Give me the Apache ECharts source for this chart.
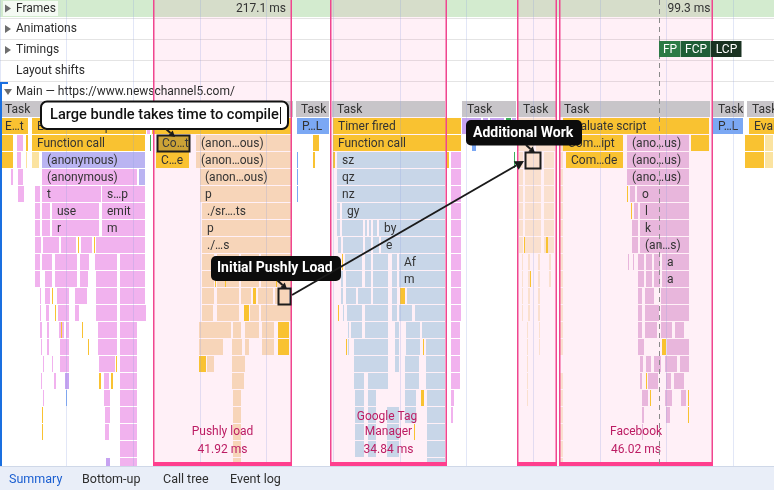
<!DOCTYPE html>
<html><head><meta charset="utf-8">
<script src="https://cdn.jsdelivr.net/npm/echarts@6/dist/echarts.min.js"></script>
<style>html,body{margin:0;padding:0;background:#fff}#c{width:774px;height:490px}</style>
</head><body><div id="c"></div>
<script>
// ---- DATA (time in ms from left edge, depth = call-stack row; 0 = Task row) ----
const taskBlocks = [[0,88.2,0,'Task'],[88.8,99,0,'Task'],[99.6,133.8,0,'Task'],[138.6,155,0,'Task'],[155.4,167.1,0,'Task'],[167.7,213.3,0,'Task'],[213.9,223.5,0,'Task'],[224.1,245,0,'Task']];
const yellowBlocks = [
 [0,8.7,1,'E…t'],[9.6,44,1,'Evaluate script'],[45.6,87.9,1],[99.9,138.6,1,'Timer fired'],[168.9,213,1,'Evaluate script'],[224.7,245,1,'Evaluate script'],
 [0,4.2,2],[7.8,8.7,2],[9.6,43.8,2,'Function call'],[47.1,57,2,'Co…t'],[93.9,96,2],[99.9,138.6,2,'Function call'],[168.9,187.2,2,'Com…ipt'],[207.3,213,2],[223.5,229.5,2],
 [0,4.2,3],[46.8,57,3,'C…e'],[93.9,94.8,3],[99.9,100.8,3],[133.8,135,3],[169.8,187.2,3,'Com…de'],[223.5,229.5,3],
 [23.4,24,8],[28.2,28.8,8],[15.6,16.2,11],[16.5,17.1,12],[18.3,18.9,13],[24.6,25.2,13],[26.4,27,14],[29.7,30.6,16],[34.8,35.4,15],[33.3,34.2,16],[12.6,13.2,18],[12.6,13.2,19],
 [59.7,62.1,15],[73.2,75,12],[75.9,77.1,11],[83.4,87,13],[83.4,87,14],[64.5,65.1,10],[67.5,68.1,10],[82.8,83.4,10],
 [102.6,103.2,9],[101.4,102,12],[103.8,104.4,14],[120,121.8,11],[126.9,127.5,14],[126.3,127.5,17],[124.2,124.8,19],
 [188.1,188.7,5],[189.3,189.9,6],[198.6,200,14],[193.8,194.4,16],[195,195.6,17],[206.4,207,17],[206.4,207,18],
 [157.2,157.8,8],[163.8,164.7,8],[159,159.6,10],[167.7,168.3,15]
];
const lightYellowBlocks = [[9.6,12,3],[7.8,8.4,3],[229.5,232.2,2],[229.5,232.2,3]];
const pinkBlocks = [
 [44.1,45.3,1],[5.1,7.2,2],[5.1,6.6,3],[5.4,7.2,4],[3.3,4.2,4],[5.4,7.5,5],[10.5,12.3,5],[10.5,12.3,6],[10.5,12.3,7],
 [12.6,41.4,4,'(anonymous)'],[12.6,30.6,5,'t'],[30.6,43.8,5,'s…p'],
 [12.6,15.3,6],[15.6,30,6,'use'],[30.6,43.8,6,'emit'],
 [12.6,15.3,7],[15.6,30,7,'r'],[30.6,43.8,7,'m'],
 [10.5,12.6,8],[12.9,18,8],[18.3,23.1,8],[24.3,28,8],[28.8,43.8,8],
 [10.5,12.3,9],[12.6,16,9],[16.5,23.4,9],[24,27,9],[28.5,35.4,9],[36,43.8,9],
 [10.5,12.3,10],[13.5,16,10],[16.5,23.4,10],[24,26.7,10],[28.8,35.4,10],[36,43.8,10],
 [12,12.6,11],[13.5,15.3,11],[17.1,21,11],[22.5,26.4,11],[28.8,35.4,11],[36,43.8,11],
 [12,12.6,12],[13.8,15,12],[17.4,21,12],[22.5,24,12],[28.8,35.4,12],[36,44.1,12],
 [12,12.9,13],[14.1,15,13],[17.7,19.5,13],[19.8,21,13],[29.4,35.4,13],[36,41.4,13],
 [12.3,12.9,14],[14.1,15,14],[18,21,14],[29.4,35.4,14],[36,41.4,14],
 [12.9,13.5,15],[15.6,16.2,15],[18,21,15],[29.7,34.8,15],[36,41.4,15],
 [12.3,12.6,16],[16.2,17.1,16],[31.2,33,16],[36,41.4,16],
 [12.9,13.2,17],[31.2,33.3,17],[36,41.4,17],
 [31.5,33.3,18],[36,41.4,18],[31.5,33,19],[36,41.4,19],[36,41.4,20],[36,41.4,21],
 [135.3,138.6,3],[135.3,138.6,4],[135.3,138.6,5],[135.3,138.6,6],[135.3,138.6,7],[135.3,138.6,8],[135.3,138.6,9],[135.3,138.6,10],[135.3,138.6,11],[135.3,138.6,12],
 [135.3,138.3,13],[135.3,138.3,14],[135.3,138.3,15],[135.3,138.3,16],[135.3,136.5,17],[135.3,136.2,18]
];
const fbPinkBlocks = [
 [188.1,207,2,'(ano…us)'],[188.1,207,3,'(ano…us)'],[188.1,207,4,'(ano…us)'],
 [189,190.8,5],[191.1,207,5,'o'],[190.2,191.7,6],[192,207,6,'l'],[189.6,191.7,7],[192,207,7,'k'],[189.6,191.7,8],[192,207,8,'(an…s)'],
 [188.4,189,9],[189.9,190.5,9],[191.4,193.5,9],[193.8,195.9,9],[196.2,198.3,9],[198.6,207,9,'a'],
 [191.4,193.5,10],[193.8,196,10],[196.2,198.3,10],[198.6,207,10,'a'],
 [191.4,193,11],[193.5,196.5,11],[198.3,207,11],
 [191.4,193,12],[193.5,198,12],[198.3,207,12],
 [191.4,193,13],[193.5,197.5,13],[198.3,202,13],[202.5,205.5,13],
 [191.4,193.5,14],[200.1,207,14],
 [192,193.2,15],[193.8,195.6,15],[196.2,198.6,15],[199.5,203.5,15],[204,207,15],
 [192,193,16],[194.4,197.7,16],[199.8,201.6,16],[202.2,205.5,16],
 [192.6,194.7,17],[199.5,202,17],[204.3,206,17],
 [192.6,193.5,18],[199.8,201.3,18],[192.6,193.2,19]
];
const lavenderBlocks = [[12.6,43.8,3,'(anonymous)'],[41.7,43.8,4]];
const purpleBlocks = [[138.6,144.6,1],[144.9,146.7,1],[147,151.5,1],[153.6,155.1,1],[19.5,21,16],[31.8,33.3,21]];
const greenBlocks = [[45,45.6,2],[151.8,153.6,1],[154.2,154.5,3]];
const blueBlocks = [[89.1,99,1,'P…L'],[213.9,223.2,1,'P…L'],[141.6,143.1,2],[19.8,20.4,17],[89.1,89.7,3],[89.1,89.7,4],[89.1,89.7,5]];
const peachBlocks = [
 [58.8,87.6,2,'(anon…ous)'],[58.8,87.6,3,'(anon…ous)'],[60,87.6,4,'(anon…ous)'],[60,87.6,5,'p'],[60.6,87.6,6,'./sr….ts'],[60.6,87.6,7,'p'],[60.6,87.6,8,'./…s'],
 [60.6,64.5,9],[65.1,72,9],[72.3,78,9],[78.3,87.6,9],
 [60.6,64.5,10],[65.1,72,10],[72.3,78,10],[78.3,87.6,10],
 [60.6,64.5,11],[65.1,72,11],[72.3,75.6,11],[77.4,82.2,11],[82.5,87,11],
 [60.6,64.2,12],[65.1,72,12],[75,78,12],[78.3,87.6,12],
 [59.7,69.6,13],[69.9,72.6,13],[73.5,78,13],[78.6,82.5,13],
 [59.7,67.2,14],[69.6,72.9,14],[73.5,75,14],[78.6,82.5,14],
 [62.1,64.5,15],[69.6,73.8,15],[69.6,73.5,16],[69.9,72.6,17],[69.9,72.6,18],[69.9,72.6,19],[69.9,72.6,20],[69.9,72.6,21]
];
const palePeachBlocks = [
 [155.4,166.8,1],[155.4,160.5,2],[160.8,166.8,2],
 [155.7,157.2,3],[157.5,162.6,3],[163.2,166.5,3],[155.7,157.2,4],[157.5,162.6,4],[163.2,166.5,4],
 [155.7,157.2,5],[157.5,162.6,5],[163.2,166.5,5],[155.7,157.2,6],[157.5,162.6,6],[163.2,166.5,6],
 [155.7,157.2,7],[157.5,162.6,7],[163.2,166.5,7],[155.7,157.2,8],[157.5,162.6,8],[163.2,166.5,8],
 [156.6,157.2,9],[158.4,159.3,9],[161.4,162.3,9],[164.7,165.6,9],[156.6,157.2,10],[158.4,159.3,10],[161.4,162.3,10],[164.7,165.6,10],
 [156.6,157.2,11],[158.4,159.3,11],[161.4,162.3,11],[156.6,157.2,12],[158.4,159.3,12],[161.4,162.3,12],
 [158.1,158.7,13],[161.7,162.3,13],[158.1,158.7,14],[161.7,162.3,14],[158.1,158.7,15],[158.1,158.7,16],[158.1,158.7,17],
 [167.7,169.2,2],[167.7,169.2,3],[167.7,169.2,4],[167.7,169.2,5],[167.7,169.2,6],[167.7,169.2,7],[167.7,169.2,8],[168,169.2,9],[168,169.2,10],
 [168,169.2,11],[168,169.2,12],[168,169.2,13],[168,169.2,14],[168,169.2,16],[168,169.2,17],[168,169.2,18],[168,169.2,19],[168,169.2,20],[168,169.2,21]
];
const gtmBlocks = [
 [101.1,133.8,3,'sz'],[101.1,133.8,4,'qz'],[101.1,133.8,5,'nz'],[101.1,102.3,6],[102.6,133.8,6,'gy'],
 [101.1,102.3,7],[102.6,109.2,7],[109.5,110.4,7],[110.7,111.6,7],[111.9,113.4,7],[113.7,133.8,7,'by'],
 [101.4,102.6,8],[102.9,109.2,8],[109.5,111.6,8],[111.9,114,8],[114.3,133.8,8,'e'],
 [103.5,109,9],[109.5,111.6,9],[111.9,116.7,9],[117.6,119.4,9],[119.7,133.8,9,'Af'],
 [102.3,103.2,10],[103.8,109,10],[109.5,111.6,10],[111.9,116.7,10],[117.6,119.4,10],[119.7,133.8,10,'m'],
 [102.3,103.2,11],[103.8,107,11],[107.4,111.6,11],[111.9,116.7,11],[117.6,119.4,11],[122,133.8,11],
 [102.9,103.5,12],[104.1,109,12],[109.5,116.7,12],[117.6,119.4,12],[119.7,124,12],[124.5,133.8,12],
 [104.4,105,13],[105.3,109,13],[109.5,116.7,13],[118.5,120,13],[121.8,126.3,13],[126.6,133.8,13],
 [104.4,105,14],[106.2,116.7,14],[118.5,120,14],[121.8,126.3,14],[127.8,133.8,14],
 [106.2,116.7,15],[118.5,120,15],[121.5,126,15],[127.8,133.8,15],
 [106.2,109.5,16],[110.4,116.7,16],[121.5,126,16],[127.8,133.8,16],
 [106.5,109.5,17],[110.4,113,17],[121.5,125,17],[128,133.8,17],
 [106.5,109.5,18],[110.4,113,18],[116,120,18],[121.5,125,18],[128,133.8,18],
 [106.5,109.5,19],[110.4,113,19],[116,120,19],[128,133.8,19],
 [106.5,109.5,20],[110.4,113,20],[116,120,20],[128,133.8,20],[128,133.8,21]
];
const selectedBlocks = [[47.1,57,2]];
const markedBlocks = [[83.4,87.3,11],[157.5,162.3,3]];
const regions = [[45.9,87.6,'Pushly load','41.92 ms'],[99.0,134.1,'Google Tag Manager','34.84 ms'],[155.1,167.1,'',''],[167.7,213.9,'Facebook','46.02 ms']];
const fpTime = 197.7;
const timingLabels = ['FP','FCP','LCP'];
const frameLabels = ['217.1 ms','99.3 ms'];
const trackLabels = ['Frames','Animations','Timings','Layout shifts'];
const mainLabel = 'Main — https://www.newschannel5.com/';
const tabLabels = ['Summary','Bottom-up','Call tree','Event log'];

// ---- STYLE ----
const FONT = 'Roboto, "Noto Sans", sans-serif';
const palette = {task:'#c8c5c9',yellow:'#f9c231',lightYellow:'#fbe3a0',pink:'#f1b2ee',fbPink:'#e8b6dc',lavender:'#bab4f2',purple:'#c7a3f1',green:'#3cae5b',blue:'#7ba8f4',peach:'#f7d5b9',palePeach:'#fae0cf',gtm:'#c8d6e8'};
const groups = [['task',taskBlocks],['palePeach',palePeachBlocks],['peach',peachBlocks],['gtm',gtmBlocks],['pink',pinkBlocks],['fbPink',fbPinkBlocks],['lavender',lavenderBlocks],['purple',purpleBlocks],['green',greenBlocks],['blue',blueBlocks],['lightYellow',lightYellowBlocks],['yellow',yellowBlocks]];
const flat = [];
groups.forEach(([k,arr]) => arr.forEach(b => flat.push({s:b[0],e:b[1],d:b[2],label:b[3]||'',color:palette[k]})));

function renderBlock(params, api){
  const b = flat[params.dataIndex];
  const p0 = api.coord([b.s, b.d]), p1 = api.coord([b.e, b.d+1]);
  const x = Math.round(p0[0]), y = Math.round(p0[1]);
  const w = Math.max(1, Math.round(p1[0]) - x - 1), h = Math.round(p1[1]) - y - 1;
  const ch = [{type:'rect', shape:{x:x,y:y,width:w,height:h}, style:{fill:b.color}}];
  if (b.label && w > 10) ch.push({type:'text', style:{text:b.label, x:x+5, y:y+h/2+0.5, verticalAlign:'middle', fill:'#333', font:'12px '+FONT, width:w-3, overflow:'truncate', ellipsis:''}});
  return {type:'group', children:ch};
}
function renderHighlight(list, tint){
  return function(params, api){
    const b = list[params.dataIndex];
    const p0 = api.coord([b[0], b[2]]), p1 = api.coord([b[1], b[2]+1]);
    return {type:'rect', shape:{x:Math.round(p0[0])+0.5, y:Math.round(p0[1])+0.5, width:Math.round(p1[0]-p0[0])-1, height:Math.round(p1[1]-p0[1])-1}, style:{fill:tint, stroke:'#1c1c1c', lineWidth:2}};
  };
}
function renderRegionFill(params, api){
  const r = regions[params.dataIndex], cs = params.coordSys;
  const x0 = api.coord([r[0],0])[0], x1 = api.coord([r[1],0])[0];
  return {type:'rect', shape:{x:x0,y:cs.y,width:x1-x0,height:cs.height}, style:{fill:'rgba(255,60,150,0.08)'}};
}
function renderRegion(params, api){
  const r = regions[params.dataIndex], cs = params.coordSys;
  const x0 = api.coord([r[0],0])[0], x1 = api.coord([r[1],0])[0];
  const top = cs.y, bot = cs.y + cs.height, cx = (x0+x1)/2;
  const ch = [
    {type:'line', shape:{x1:x0+0.75,y1:top,x2:x0+0.75,y2:bot}, style:{stroke:'#f0468f',lineWidth:1.5}},
    {type:'line', shape:{x1:x1-0.75,y1:top,x2:x1-0.75,y2:bot}, style:{stroke:'#f0468f',lineWidth:1.5}},
    {type:'rect', shape:{x:x0,y:bot-5,width:x1-x0,height:5}, style:{fill:'#ff3f8e'}}
  ];
  if (r[2]) {
    ch.push({type:'text', style:{text:r[2], x:cx, y:bot-27.5, align:'center', verticalAlign:'bottom', lineHeight:15, width:x1-x0-26, overflow:'break', fill:'#bc1c63', font:'12px '+FONT}});
    ch.push({type:'text', style:{text:r[3], x:cx, y:bot-17.5, align:'center', verticalAlign:'middle', fill:'#bc1c63', font:'12px '+FONT}});
  }
  return {type:'group', children:ch};
}

// ---- chrome / annotations (pixel graphics) ----
function arrow(x1,y1,x2,y2,hl){
  const a = Math.atan2(y2-y1,x2-x1), hw = hl*0.55;
  const bx = x2 - hl*Math.cos(a), by = y2 - hl*Math.sin(a);
  return [
    {type:'line', z:101, shape:{x1:x1,y1:y1,x2:bx,y2:by}, style:{stroke:'#1a1a1a', lineWidth:2}},
    {type:'polygon', z:101, shape:{points:[[x2,y2],[bx - hw*Math.sin(a), by + hw*Math.cos(a)],[bx + hw*Math.sin(a), by - hw*Math.cos(a)]]}, style:{fill:'#1a1a1a'}}
  ];
}
const tri = (x,y,down) => ({type:'polygon', z:2, shape:{points: down ? [[x,y-3],[x+8,y-3],[x+4,y+3]] : [[x+1,y-4],[x+1,y+4],[x+7,y]]}, style:{fill:'#6e6e6e'}});
const graphics = [
  {type:'rect', z:1, shape:{x:0,y:0,width:774,height:17}, style:{fill:'#d3ebcf'}},
  {type:'rect', z:1, shape:{x:3,y:1,width:55,height:15}, style:{fill:'rgba(255,255,255,0.75)'}},
  {type:'rect', z:60, shape:{x:0,y:467,width:774,height:23}, style:{fill:'#e9eef8'}},
  {type:'line', z:60, shape:{x1:0,y1:466.5,x2:774,y2:466.5}, style:{stroke:'#cfd8e8', lineWidth:1}}
];
[18.5,39.5,60.5,81.5].forEach(y => graphics.push({type:'line', z:1, shape:{x1:0,y1:y,x2:774,y2:y}, style:{stroke:'#e4e4e4', lineWidth:1}}));
[8.5,29,50,71].forEach((y,i) => {
  if (i < 3) graphics.push(tri(4,y,false));
  graphics.push({type:'text', z:2, style:{text:trackLabels[i], x:16, y:y, verticalAlign:'middle', fill:'#2b2b2b', font:'12px '+FONT}});
});
graphics.push(tri(4,92,true));
graphics.push({type:'text', z:2, style:{text:mainLabel, x:16, y:92, verticalAlign:'middle', fill:'#2b2b2b', font:'12px '+FONT}});
graphics.push({type:'rect', z:60, shape:{x:0,y:82,width:2,height:384}, style:{fill:'#1a6fe0'}});
graphics.push({type:'rect', z:60, shape:{x:0,y:82,width:8,height:2}, style:{fill:'#1a6fe0'}});
graphics.push({type:'text', z:2, style:{text:frameLabels[0], x:261, y:8.5, align:'center', verticalAlign:'middle', fill:'#333', font:'12px '+FONT}});
graphics.push({type:'text', z:2, style:{text:frameLabels[1], x:689, y:8.5, align:'center', verticalAlign:'middle', fill:'#333', font:'12px '+FONT}});
[9,82,163,230].forEach((x,i) => graphics.push({type:'text', z:61, style:{text:tabLabels[i], x:x, y:480, verticalAlign:'middle', fill: i===0 ? '#1b5fd1' : '#2e2e2e', font:'12.5px '+FONT}}));
// callouts
graphics.push({type:'rect', z:100, shape:{x:41,y:101.5,width:247,height:27.5,r:6}, style:{fill:'#fff', stroke:'#111', lineWidth:2}});
graphics.push({type:'text', z:101, style:{text:'Large bundle takes time to compile', x:50, y:115.5, verticalAlign:'middle', font:'500 14.6px '+FONT, fill:'#111'}});
graphics.push({type:'line', z:101, shape:{x1:280.5,y1:107,x2:280.5,y2:124}, style:{stroke:'#111', lineWidth:1}});
graphics.push({type:'rect', z:100, shape:{x:466,y:120,width:116,height:25.5,r:5}, style:{fill:'#0c0c0c'}});
graphics.push({type:'text', z:101, style:{text:'Additional Work', x:473, y:133, verticalAlign:'middle', font:'bold 14px '+FONT, fill:'#fff'}});
graphics.push({type:'rect', z:100, shape:{x:211,y:256,width:130,height:25,r:5}, style:{fill:'#0c0c0c'}});
graphics.push({type:'text', z:101, style:{text:'Initial Pushly Load', x:217, y:268.5, verticalAlign:'middle', font:'bold 14px '+FONT, fill:'#fff'}});
graphics.push(...arrow(166,129,175,137,6));
graphics.push(...arrow(526,145,535,153,6));
graphics.push(...arrow(277,280,287,289,6));
graphics.push(...arrow(292,295,524,161,9));

const chart = echarts.init(document.getElementById('c'));
chart.setOption({
  animation:false,
  grid:{left:0,right:0,top:0,bottom:23,containLabel:false},
  xAxis:{type:'value', min:0, max:232.2, interval:20, z:3, axisLabel:{show:false}, axisLine:{show:false}, axisTick:{show:false},
         splitLine:{show:true, lineStyle:{color:'rgba(140,160,225,0.25)', width:1}}},
  yAxis:{type:'value', min:-101/17, max:366/17, inverse:true, show:false, splitLine:{show:false}},
  graphic: graphics,
  series:[
    {type:'custom', z:1.5, renderItem:renderRegionFill, data:regions.map(r => [r[0],r[1]]), encode:{x:[0,1]}, silent:true},
    {type:'custom', z:2, renderItem:renderBlock, data:flat.map(b => [b.s,b.e,b.d]), encode:{x:[0,1], y:2}, silent:true},
    {type:'custom', z:4, renderItem:renderRegion, data:regions.map(r => [r[0],r[1]]), encode:{x:[0,1]}, silent:true},
    {type:'custom', z:6, renderItem:renderHighlight(selectedBlocks,'rgba(70,70,70,0.25)'), data:selectedBlocks, encode:{x:[0,1], y:2}, silent:true},
    {type:'custom', z:6, renderItem:renderHighlight(markedBlocks,'rgba(0,0,0,0)'), data:markedBlocks, encode:{x:[0,1], y:2}, silent:true},
    {type:'line', z:5, data:[], silent:true, markLine:{symbol:'none', silent:true, label:{show:false}, lineStyle:{color:'#8a8a8a', type:[5,4], width:1}, data:[{xAxis:fpTime}]}}
  ]
});
// timing markers placed at the FP time
const fx = Math.round(chart.convertToPixel({xAxisIndex:0}, fpTime));
const tColors = ['#2c7a45','#1f5d36','#1a3222'], tW = [22,30,31];
let cx = fx; const extra = [];
timingLabels.forEach((t,i) => {
  extra.push({type:'rect', z:20, shape:{x:cx,y:41,width:tW[i]-0.5,height:16}, style:{fill:tColors[i]}});
  extra.push({type:'text', z:21, style:{text:t, x:cx+tW[i]/2, y:49.5, align:'center', verticalAlign:'middle', fill:'#fff', font:'12px '+FONT}});
  cx += tW[i];
});
chart.setOption({graphic: graphics.concat(extra)});
</script></body></html>
